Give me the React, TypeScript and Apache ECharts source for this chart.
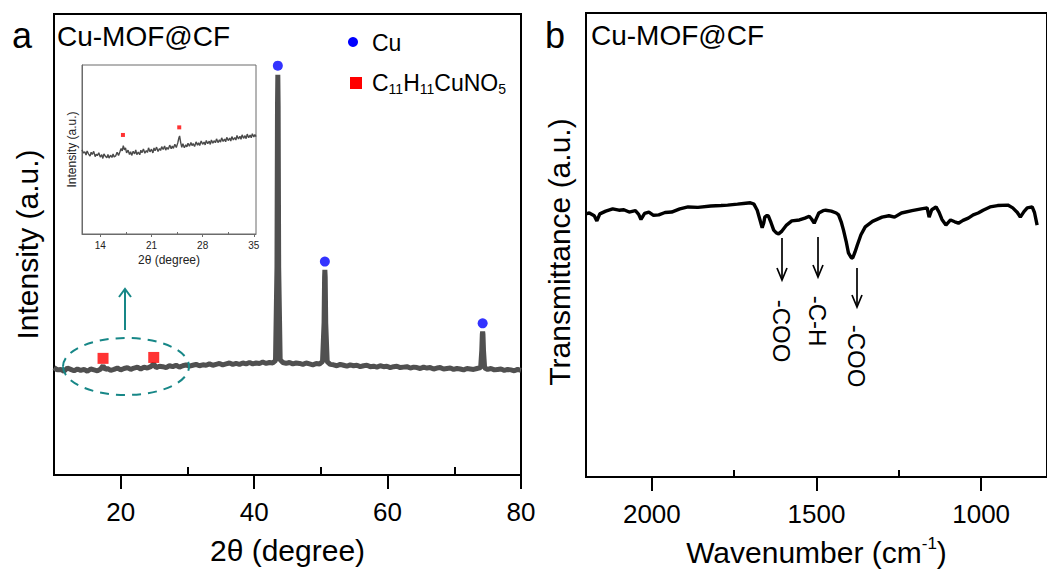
import React, { useEffect, useRef } from "react";
import * as echarts from "echarts";

const FONT = "'Liberation Sans', Arial, Helvetica, sans-serif";

// ---- tick values ----
const xrdTicksMajor = [20, 40, 60, 80];
const xrdTicksMinor = [10, 30, 50, 70];
const insetTicksMajor = [14, 21, 28, 35];
const insetTicksMinor = [17.5, 24.5, 31.5];
const ftirTicksMajor = [2000, 1500, 1000];
const ftirTicksMinor = [1750, 1250];

// ---- panel a: XRD pattern (2θ, intensity a.u.) ----
const xrdPattern: [number, number][] = [
  [10, 23.3], [10.5, 22.8], [11, 22.9], [11.5, 22.5], [12, 23.2], [12.5, 22.9], [13, 22.6], [13.5, 23.0],
  [14, 22.7], [14.5, 22.9], [15, 22.5], [15.5, 23.0], [16, 22.8], [16.5, 22.6], [17, 23.0], [17.35, 23.7],
  [17.7, 22.9], [18, 23.1], [18.5, 22.7], [19, 22.9], [19.5, 23.2], [20, 22.8], [20.5, 23.1], [21, 23.3],
  [21.5, 22.9], [22, 23.2], [22.5, 23.4], [23, 23.0], [23.5, 23.4], [24, 23.2], [24.5, 23.5], [24.95, 24.1],
  [25.3, 23.3], [25.8, 23.6], [26.3, 23.5], [26.8, 23.3], [27.3, 23.7], [27.8, 23.5], [28.3, 23.8], [28.8, 23.4],
  [29.3, 23.7], [29.8, 23.9], [30.3, 23.6], [30.8, 23.8], [31.3, 24.0], [31.8, 23.7], [32.3, 23.9], [32.8, 23.8],
  [33.3, 24.1], [33.8, 23.8], [34.3, 24.0], [34.8, 24.2], [35.3, 23.9], [35.8, 24.1], [36.3, 24.3], [36.8, 24.0],
  [37.3, 24.2], [37.8, 24.0], [38.3, 24.3], [38.8, 24.1], [39.3, 24.4], [39.8, 24.1], [40.3, 24.3], [40.8, 24.2],
  [41.3, 24.5], [41.8, 24.2], [42.3, 24.4], [42.8, 24.3], [43.2, 24.8], [43.42, 45], [43.5, 80], [43.55, 86.8],
  [43.6, 80], [43.68, 45], [43.9, 25.0], [44.3, 24.4], [44.8, 24.2], [45.3, 24.4], [45.8, 24.1], [46.3, 24.3],
  [46.8, 24.2], [47.3, 24.0], [47.8, 24.3], [48.3, 24.1], [48.8, 23.9], [49.3, 24.2], [49.8, 24.1], [50.25, 24.6],
  [50.48, 33], [50.56, 43], [50.6, 44.5], [50.65, 43], [50.73, 33], [50.95, 24.6], [51.4, 24.0], [51.9, 23.9],
  [52.4, 23.7], [52.9, 24.0], [53.4, 23.8], [53.9, 23.6], [54.4, 23.9], [54.9, 23.7], [55.4, 23.8], [55.9, 23.5],
  [56.4, 23.7], [56.9, 23.8], [57.4, 23.5], [57.9, 23.6], [58.4, 23.4], [58.9, 23.7], [59.4, 23.5], [59.9, 23.6],
  [60.4, 23.3], [60.9, 23.5], [61.4, 23.6], [61.9, 23.3], [62.4, 23.4], [62.9, 23.5], [63.4, 23.2], [63.9, 23.4],
  [64.4, 23.3], [64.9, 23.1], [65.4, 23.4], [65.9, 23.2], [66.4, 23.3], [66.9, 23.0], [67.4, 23.2], [67.9, 23.3],
  [68.4, 23.0], [68.9, 23.1], [69.4, 23.2], [69.9, 22.9], [70.4, 23.1], [70.9, 23.0], [71.4, 22.8], [71.9, 23.1],
  [72.4, 23.0], [72.9, 22.9], [73.4, 23.1], [73.95, 23.3], [74.12, 27], [74.2, 30.5], [74.25, 31.1], [74.3, 30.5],
  [74.38, 27], [74.55, 23.2], [75, 22.9], [75.5, 23.1], [76, 22.8], [76.5, 22.9], [77, 23.0], [77.5, 22.7],
  [78, 22.9], [78.5, 22.8], [79, 22.6], [79.5, 22.9], [80, 22.7],
];
const cuPeakMarkers: [number, number][] = [[43.55, 88.8], [50.6, 46.3], [74.25, 32.9]];
const mofMarkers: [number, number][] = [[17.35, 25.3], [24.95, 25.5]];

// ---- panel a inset: low-angle region ----
const insetPattern: [number, number][] = [
  [11.5, 49.8], [11.7, 47.9], [11.9, 48.6], [12.05, 46.7], [12.2, 49.1], [12.4, 47.3], [12.6, 46.1], [12.75, 48.4],
  [12.9, 47.0], [13.1, 48.9], [13.3, 45.8], [13.45, 47.2], [13.6, 46.4], [13.8, 48.1], [14.0, 45.5], [14.2, 46.9],
  [14.35, 44.7], [14.5, 47.4], [14.7, 46.0], [14.9, 45.1], [15.05, 47.0], [15.2, 44.9], [15.4, 46.6], [15.6, 45.3],
  [15.75, 47.3], [15.9, 45.6], [16.1, 46.2], [16.3, 48.4], [16.5, 46.5], [16.7, 48.8], [16.85, 50.6], [17.0, 49.2],
  [17.15, 52.3], [17.3, 49.8], [17.45, 50.9], [17.6, 48.0], [17.8, 49.6], [18.0, 47.1], [18.15, 48.7], [18.3, 46.5],
  [18.5, 48.9], [18.7, 47.4], [18.85, 49.8], [19.0, 47.0], [19.2, 48.4], [19.4, 46.9], [19.55, 49.6], [19.7, 48.1],
  [19.9, 50.3], [20.1, 47.8], [20.3, 49.4], [20.45, 48.2], [20.6, 51.0], [20.8, 48.6], [21.0, 50.2], [21.2, 48.0],
  [21.35, 50.9], [21.5, 49.3], [21.7, 51.4], [21.9, 48.8], [22.1, 50.6], [22.25, 49.4], [22.4, 51.7], [22.6, 50.0],
  [22.8, 52.1], [22.95, 49.6], [23.1, 51.2], [23.3, 50.1], [23.5, 52.6], [23.7, 50.4], [23.85, 52.0], [24.0, 50.7],
  [24.2, 53.1], [24.4, 51.2], [24.6, 53.9], [24.75, 56.8], [24.85, 58.0], [25.0, 54.1], [25.15, 51.3], [25.3, 53.4],
  [25.5, 51.0], [25.7, 52.8], [25.85, 51.6], [26.0, 53.7], [26.2, 51.9], [26.4, 54.2], [26.55, 52.3], [26.7, 53.5],
  [26.9, 51.8], [27.1, 54.5], [27.3, 52.6], [27.45, 54.0], [27.6, 52.4], [27.8, 55.0], [28.0, 53.1], [28.2, 54.4],
  [28.35, 52.7], [28.5, 55.3], [28.7, 53.4], [28.9, 54.9], [29.05, 53.0], [29.2, 55.6], [29.4, 53.8], [29.6, 55.2],
  [29.75, 54.0], [29.9, 56.3], [30.1, 54.1], [30.3, 55.7], [30.45, 54.4], [30.6, 56.9], [30.8, 54.8], [31.0, 56.2],
  [31.15, 54.6], [31.3, 57.2], [31.5, 55.3], [31.7, 56.8], [31.85, 55.0], [32.0, 57.6], [32.2, 55.7], [32.4, 57.1],
  [32.55, 55.6], [32.7, 58.3], [32.9, 56.2], [33.1, 57.8], [33.25, 56.0], [33.4, 58.7], [33.6, 56.6], [33.8, 58.2],
  [33.95, 56.4], [34.1, 59.1], [34.3, 57.0], [34.5, 58.6], [34.65, 56.9], [34.8, 59.3], [35.0, 57.4], [35.15, 58.8],
  [35.3, 57.6],
];
const insetMofMarkers: [number, number][] = [[17.1, 58.6], [24.8, 63.1]];

// ---- panel b: FTIR spectrum (wavenumber, transmittance a.u.) ----
const ftirSpectrum: [number, number][] = [
  [2200, 56.7], [2190, 56.9], [2175, 56.3], [2167, 55.2], [2158, 56.7], [2140, 57.3], [2119, 57.8], [2100, 57.5],
  [2085, 57.6], [2069, 57.1], [2050, 57.4], [2040, 56.6], [2033, 55.5], [2022, 56.8], [2009, 57.1], [1995, 56.4],
  [1979, 56.5], [1960, 57.0], [1940, 57.1], [1915, 57.8], [1890, 58.2], [1860, 58.1], [1821, 58.4], [1790, 58.5],
  [1770, 58.6], [1740, 58.8], [1715, 59.0], [1701, 59.1], [1690, 58.8], [1680, 57.5], [1672, 55.5], [1665, 53.7],
  [1660, 54.8], [1657, 56.0], [1650, 56.4], [1646, 56.2], [1638, 54.8], [1630, 53.2], [1622, 52.6], [1615, 52.4],
  [1605, 53.0], [1591, 54.3], [1575, 55.2], [1552, 55.4], [1535, 55.8], [1522, 56.2], [1515, 55.6], [1507, 54.7],
  [1500, 55.8], [1493, 56.9], [1480, 57.4], [1472, 57.5], [1455, 57.3], [1440, 56.9], [1433, 56.5], [1425, 55.0],
  [1418, 53.2], [1410, 50.8], [1403, 48.3], [1395, 47.3], [1390, 47.2], [1383, 48.5], [1376, 50.0], [1365, 52.2],
  [1352, 53.9], [1330, 55.1], [1301, 56.0], [1280, 56.3], [1263, 56.0], [1242, 56.9], [1210, 57.4], [1182, 57.8],
  [1164, 58.0], [1158, 56.0], [1150, 57.6], [1137, 58.2], [1128, 57.1], [1119, 55.5], [1107, 54.3], [1093, 55.4],
  [1080, 55.0], [1069, 54.7], [1055, 55.3], [1039, 55.8], [1024, 56.5], [1009, 56.9], [994, 57.5], [973, 58.2],
  [950, 58.5], [919, 58.6], [904, 58.0], [890, 57.0], [881, 56.0], [870, 57.2], [860, 58.0], [845, 58.2],
  [838, 57.0], [830, 54.3],
];

const black = "#000";
const teal = "#178787";
const plain = (v: number) => String(v);

function buildOption(): any {
  const tickText = { fontFamily: FONT, color: black };
  const arrowDown = (x: number, y1: number, y2: number) => [
    { type: "line", z: 100, shape: { x1: x, y1, x2: x, y2 }, style: { stroke: black, lineWidth: 1.7 } },
    { type: "polyline", z: 100, shape: { points: [[x - 5, y2 - 12], [x, y2], [x + 5, y2 - 12]] }, style: { stroke: black, lineWidth: 1.7, fill: "none" } },
  ];
  const vLabel = (x: number, y: number, text: string) => ({
    type: "text", z: 100, x, y, rotation: -Math.PI / 2,
    style: { text, fontFamily: FONT, fontSize: 24, fill: black, align: "center", verticalAlign: "middle" },
  });
  return {
    animation: false,
    backgroundColor: "#fff",
    textStyle: { fontFamily: FONT },
    grid: [
      { left: 54, top: 14, width: 467, height: 461, show: true, borderColor: black, borderWidth: 2, backgroundColor: "transparent" },
      { left: 82, top: 65, width: 174, height: 169, show: true, borderColor: "#6b6b6b", borderWidth: 1, backgroundColor: "transparent" },
      { left: 586, top: 13, width: 470, height: 464, show: true, borderColor: black, borderWidth: 2, backgroundColor: "transparent" },
    ],
    xAxis: [
      {
        gridIndex: 0, type: "value", min: 10, max: 80,
        axisLine: { show: true, onZero: false, lineStyle: { color: black, width: 2 } },
        axisTick: { show: true, customValues: xrdTicksMajor, length: 14, lineStyle: { color: black, width: 2 } },
        axisLabel: { customValues: xrdTicksMajor, formatter: plain, fontSize: 26, margin: 24, ...tickText },
        splitLine: { show: false },
        name: "2θ (degree)", nameLocation: "middle", nameGap: 60,
        nameTextStyle: { fontSize: 30, fontFamily: FONT, color: black },
      },
      {
        gridIndex: 0, type: "value", min: 10, max: 80,
        axisLine: { show: false },
        axisTick: { show: true, customValues: xrdTicksMinor, length: 8, lineStyle: { color: black, width: 2 } },
        axisLabel: { show: false }, splitLine: { show: false },
      },
      {
        gridIndex: 1, type: "value", min: 11.5, max: 35.3,
        axisLine: { show: true, onZero: false, lineStyle: { color: "#6b6b6b", width: 1 } },
        axisTick: { show: true, customValues: insetTicksMajor, length: 3, lineStyle: { color: "#6b6b6b", width: 1 } },
        axisLabel: { customValues: insetTicksMajor, formatter: plain, fontSize: 10, margin: 6, fontFamily: FONT, color: "#222" },
        splitLine: { show: false },
        name: "2θ (degree)", nameLocation: "middle", nameGap: 20,
        nameTextStyle: { fontSize: 12, fontFamily: FONT, color: "#222" },
      },
      {
        gridIndex: 1, type: "value", min: 11.5, max: 35.3,
        axisLine: { show: false },
        axisTick: { show: true, customValues: insetTicksMinor, length: 2, lineStyle: { color: "#6b6b6b", width: 1 } },
        axisLabel: { show: false }, splitLine: { show: false },
      },
      {
        gridIndex: 2, type: "value", min: 800, max: 2200, inverse: true,
        axisLine: { show: true, onZero: false, lineStyle: { color: black, width: 2 } },
        axisTick: { show: true, customValues: ftirTicksMajor, length: 14, lineStyle: { color: black, width: 2 } },
        axisLabel: { customValues: ftirTicksMajor, formatter: plain, fontSize: 26, margin: 24, ...tickText },
        splitLine: { show: false },
        name: "{n|Wavenumber (cm}{p|-1}{n|)}", nameLocation: "middle", nameGap: 58,
        nameTextStyle: {
          fontFamily: FONT, color: black, fontSize: 30,
          rich: {
            n: { fontSize: 30, lineHeight: 34, fontFamily: FONT, color: black },
            p: { fontSize: 17, lineHeight: 20, verticalAlign: "top", fontFamily: FONT, color: black },
          },
        },
      },
      {
        gridIndex: 2, type: "value", min: 800, max: 2200, inverse: true,
        axisLine: { show: false },
        axisTick: { show: true, customValues: ftirTicksMinor, length: 7, lineStyle: { color: black, width: 2 } },
        axisLabel: { show: false }, splitLine: { show: false },
      },
    ],
    yAxis: [
      {
        gridIndex: 0, type: "value", min: 0, max: 100,
        axisLine: { show: true, onZero: false, lineStyle: { color: black, width: 2 } },
        axisTick: { show: false }, axisLabel: { show: false }, splitLine: { show: false },
        name: "Intensity (a.u.)", nameLocation: "middle", nameGap: 12,
        nameTextStyle: { fontSize: 30, fontFamily: FONT, color: black },
      },
      {
        gridIndex: 1, type: "value", min: 0, max: 100,
        axisLine: { show: true, onZero: false, lineStyle: { color: "#6b6b6b", width: 1 } },
        axisTick: { show: false }, axisLabel: { show: false }, splitLine: { show: false },
        name: "Intensity (a.u.)", nameLocation: "middle", nameGap: 4,
        nameTextStyle: { fontSize: 12, fontFamily: FONT, color: "#222" },
      },
      {
        gridIndex: 2, type: "value", min: 0, max: 100,
        axisLine: { show: true, onZero: false, lineStyle: { color: black, width: 2 } },
        axisTick: { show: false }, axisLabel: { show: false }, splitLine: { show: false },
        name: "Transmittance (a.u.)", nameLocation: "middle", nameGap: 12,
        nameTextStyle: { fontSize: 30, fontFamily: FONT, color: black, padding: [0, 14, 0, 0] },
      },
    ],
    series: [
      {
        type: "line", name: "XRD", xAxisIndex: 0, yAxisIndex: 0, data: xrdPattern,
        showSymbol: false, lineStyle: { color: "#505050", width: 5 }, itemStyle: { color: "#505050" }, z: 2,
      },
      {
        type: "scatter", name: "Cu", xAxisIndex: 0, yAxisIndex: 0, data: cuPeakMarkers,
        symbol: "circle", symbolSize: 10, itemStyle: { color: "#0000ff" }, z: 3,
      },
      {
        type: "scatter", name: "C11H11CuNO5", xAxisIndex: 0, yAxisIndex: 0, data: mofMarkers,
        symbol: "rect", symbolSize: 11, itemStyle: { color: "#ff0000" }, z: 3,
      },
      {
        type: "line", name: "XRD inset", xAxisIndex: 2, yAxisIndex: 1, data: insetPattern,
        showSymbol: false, lineStyle: { color: "#4a4a4a", width: 1.4 }, itemStyle: { color: "#4a4a4a" }, z: 2,
      },
      {
        type: "scatter", name: "C11H11CuNO5 inset", xAxisIndex: 2, yAxisIndex: 1, data: insetMofMarkers,
        symbol: "rect", symbolSize: 4, itemStyle: { color: "#ff0000" }, z: 3,
      },
      {
        type: "line", name: "FTIR", xAxisIndex: 4, yAxisIndex: 2, data: ftirSpectrum,
        showSymbol: false, lineStyle: { color: black, width: 3.4 }, itemStyle: { color: black }, z: 2,
      },
    ],
    graphic: [
      { type: "text", z: 100, x: 12, y: 35, style: { text: "a", fontFamily: FONT, fontSize: 36, fill: black, align: "left", verticalAlign: "middle" } },
      { type: "text", z: 100, x: 545, y: 35, style: { text: "b", fontFamily: FONT, fontSize: 36, fill: black, align: "left", verticalAlign: "middle" } },
      { type: "text", z: 100, x: 57, y: 36, style: { text: "Cu-MOF@CF", fontFamily: FONT, fontSize: 28, fill: black, align: "left", verticalAlign: "middle" } },
      { type: "text", z: 100, x: 591, y: 35, style: { text: "Cu-MOF@CF", fontFamily: FONT, fontSize: 28, fill: black, align: "left", verticalAlign: "middle" } },
      // legend
      { type: "circle", z: 100, shape: { cx: 353, cy: 42, r: 5 }, style: { fill: "#0000ff" } },
      { type: "text", z: 100, x: 372, y: 43, style: { text: "Cu", fontFamily: FONT, fontSize: 23, fill: black, align: "left", verticalAlign: "middle" } },
      { type: "rect", z: 100, shape: { x: 350, y: 77, width: 12, height: 12 }, style: { fill: "#ff0000" } },
      {
        type: "text", z: 100, x: 372, y: 83,
        style: {
          text: "{n|C}{s|11}{n|H}{s|11}{n|CuNO}{s|5}", align: "left", verticalAlign: "middle",
          rich: {
            n: { fontFamily: FONT, fontSize: 23, lineHeight: 26, fill: black },
            s: { fontFamily: FONT, fontSize: 14, lineHeight: 14, verticalAlign: "bottom", fill: black },
          },
        },
      },
      // zoom annotation (panel a)
      { type: "ellipse", z: 100, shape: { cx: 126, cy: 366.5, rx: 63, ry: 28.5 }, style: { fill: "none", stroke: teal, lineWidth: 2, lineDash: [9, 7] } },
      { type: "line", z: 100, shape: { x1: 125, y1: 330, x2: 125, y2: 290 }, style: { stroke: teal, lineWidth: 2 } },
      { type: "polyline", z: 100, shape: { points: [[119, 297], [125, 289], [131, 297]] }, style: { stroke: teal, lineWidth: 2, fill: "none" } },
      // panel b annotations
      ...arrowDown(782, 238, 280),
      ...arrowDown(818, 237, 277),
      ...arrowDown(857, 268, 307),
      vLabel(781, 331, "-COO"),
      vLabel(817, 321, "-C-H"),
      vLabel(856, 356, "-COO"),
    ],
  };
}

export default function App() {
  const ref = useRef<HTMLDivElement>(null);
  useEffect(() => {
    if (!ref.current) return;
    const chart = echarts.init(ref.current, null, { renderer: "svg" });
    chart.setOption(buildOption());
    return () => chart.dispose();
  }, []);
  return (
    <div
      ref={ref}
      style={{ position: "fixed", left: 0, top: 0, width: 1047, height: 572, background: "#fff", overflow: "hidden" }}
    />
  );
}
